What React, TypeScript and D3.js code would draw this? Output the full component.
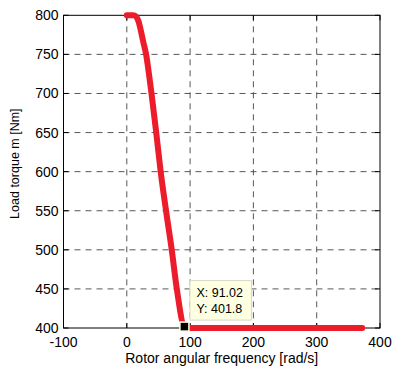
import React from "react";
import * as d3 from "d3";

// Load torque characteristic vs. rotor angular frequency
const omega = [0, 5, 10, 13, 16, 19, 22, 26, 30.5, 35, 39, 46.5, 53.5, 62, 71, 79, 91.02, 100, 200, 300, 372];
const torque = [800, 800, 800, 799.5, 797, 791, 781, 766, 750, 725, 700, 650, 600, 550, 500, 450, 401.8, 400, 400, 400, 400];

const xTicks = [-100, 0, 100, 200, 300, 400];
const yTicks = [400, 450, 500, 550, 600, 650, 700, 750, 800];

const tipX = 91.02;
const tipY = 401.8;

const W = 393;
const H = 369;
const left = 63.5;
const right = 380;
const top = 15.3;
const bottom = 328;

export default function App() {
  const x = d3.scaleLinear().domain([-100, 400]).range([left, right]);
  const y = d3.scaleLinear().domain([400, 800]).range([bottom, top]);

  const pts: [number, number][] = omega.map((w, i) => [w, torque[i]]);
  const line = d3
    .line<[number, number]>()
    .x((d) => x(d[0]))
    .y((d) => y(d[1]))
    .curve(d3.curveMonotoneX);

  const font = "'Liberation Sans', Arial, Helvetica, sans-serif";
  const tickLen = 5;
  const mx = x(tipX);
  const my = y(tipY);

  return (
    <svg
      width={W}
      height={H}
      style={{ position: "absolute", left: 0, top: 0, background: "#fff" }}
      fontFamily={font}
    >
      <rect x={left} y={top} width={right - left} height={bottom - top} fill="#fff" />
      {/* grid */}
      {xTicks
        .filter((t) => t > -100 && t < 400)
        .map((t) => (
          <line
            key={"gx" + t}
            x1={x(t)}
            x2={x(t)}
            y1={top}
            y2={bottom}
            stroke="#444"
            strokeWidth={0.9}
            strokeDasharray="6,5"
          />
        ))}
      {yTicks
        .filter((t) => t > 400 && t < 800)
        .map((t) => (
          <line
            key={"gy" + t}
            x1={left}
            x2={right}
            y1={y(t)}
            y2={y(t)}
            stroke="#444"
            strokeWidth={0.9}
            strokeDasharray="6,5"
          />
        ))}
      {/* tick marks on all four sides */}
      {xTicks.map((t) => (
        <g key={"tx" + t}>
          <line x1={x(t)} x2={x(t)} y1={bottom} y2={bottom - tickLen} stroke="#000" />
          <line x1={x(t)} x2={x(t)} y1={top} y2={top + tickLen} stroke="#000" />
        </g>
      ))}
      {yTicks.map((t) => (
        <g key={"ty" + t}>
          <line x1={left} x2={left + tickLen} y1={y(t)} y2={y(t)} stroke="#000" />
          <line x1={right} x2={right - tickLen} y1={y(t)} y2={y(t)} stroke="#000" />
        </g>
      ))}
      <rect
        x={left}
        y={top}
        width={right - left}
        height={bottom - top}
        fill="none"
        stroke="#000"
        strokeWidth={1}
      />
      {/* tick labels */}
      {xTicks.map((t) => (
        <text key={"lx" + t} x={x(t)} y={bottom + 19} fontSize={14} textAnchor="middle" fill="#000">
          {t}
        </text>
      ))}
      {yTicks.map((t) => (
        <text
          key={"ly" + t}
          x={left - 5}
          y={y(t) + 5}
          fontSize={14}
          textAnchor="end"
          fill="#000"
        >
          {t}
        </text>
      ))}
      {/* axis labels */}
      <text x={(left + right) / 2} y={363} fontSize={14} textAnchor="middle" fill="#000">
        Rotor angular frequency [rad/s]
      </text>
      <text
        transform={`translate(19,${(top + bottom) / 2 - 8}) rotate(-90)`}
        fontSize={12.5}
        textAnchor="middle"
        fill="#000"
      >
        Load torque m [Nm]
      </text>
      {/* curve */}
      <path
        d={line(pts) || ""}
        fill="none"
        stroke="#ec1c2a"
        strokeWidth={6}
        strokeLinecap="round"
        strokeLinejoin="round"
      />
      {/* data tip */}
      <rect
        x={mx + 5.5}
        y={my - 46}
        width={61.5}
        height={39.5}
        fill="#ffffe1"
        stroke="#d8d8c8"
        strokeWidth={1}
      />
      <text x={mx + 12} y={my - 29.5} fontSize={12.5} fill="#000">
        {`X: ${tipX.toFixed(2)}`}
      </text>
      <text x={mx + 12} y={my - 14} fontSize={12.5} fill="#000">
        {`Y: ${tipY.toFixed(1)}`}
      </text>
      <rect
        x={mx - 4.5}
        y={my - 4.5}
        width={9}
        height={9}
        fill="#000"
        stroke="#ffffe1"
        strokeWidth={1.5}
      />
    </svg>
  );
}
